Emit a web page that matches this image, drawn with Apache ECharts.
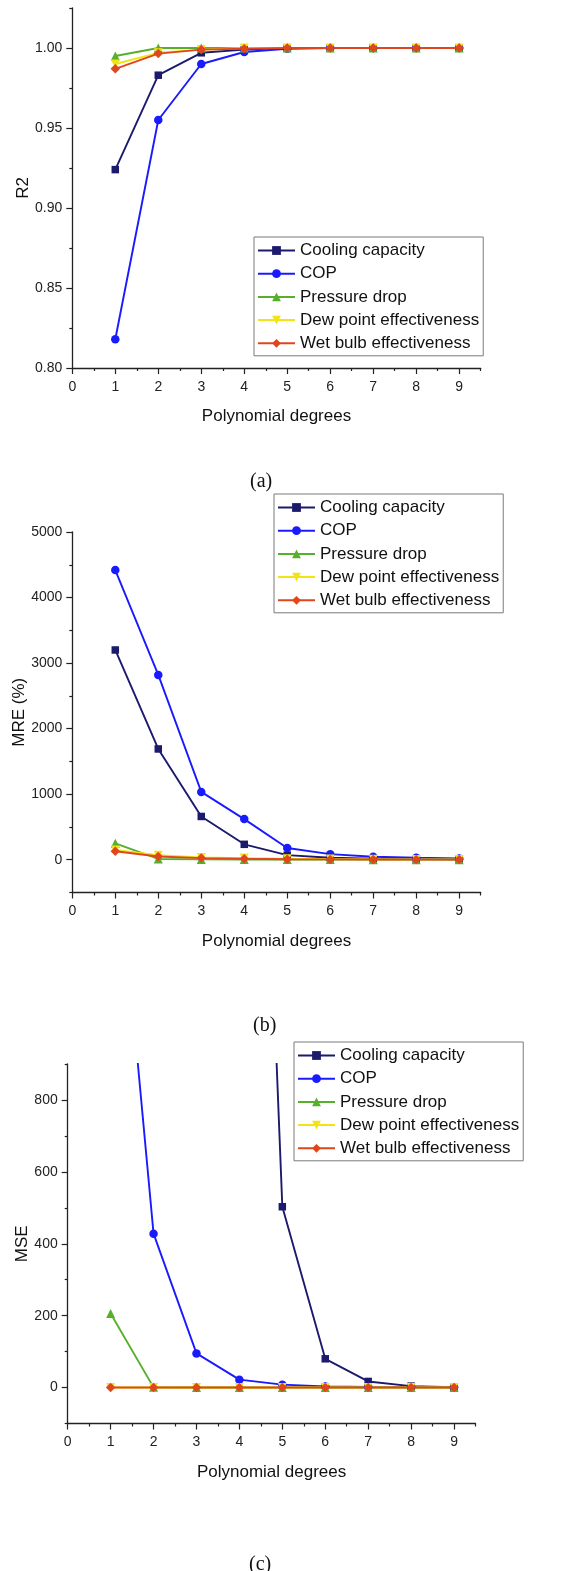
<!DOCTYPE html>
<html><head><meta charset="utf-8">
<script src="https://cdn.jsdelivr.net/npm/echarts@6/dist/echarts.min.js"></script>
<style>html,body{margin:0;padding:0;background:#fff}#c{width:573px;height:1571px}</style>
</head><body><div id="c"></div>
<script>
// ---------- data ----------
const degrees = [1, 2, 3, 4, 5, 6, 7, 8, 9];
const seriesNames = ['Cooling capacity', 'COP', 'Pressure drop', 'Dew point effectiveness', 'Wet bulb effectiveness'];

// (a) R2
const r2Cooling  = [0.924, 0.983, 0.997, 0.999, 1.000, 1.000, 1.000, 1.000, 1.000];
const r2COP      = [0.818, 0.955, 0.990, 0.9975, 0.9995, 1.000, 1.000, 1.000, 1.000];
const r2Pressure = [0.995, 1.000, 1.000, 1.000, 1.000, 1.000, 1.000, 1.000, 1.000];
const r2Dew      = [0.990, 0.997, 0.999, 1.000, 1.000, 1.000, 1.000, 1.000, 1.000];
const r2Wet      = [0.987, 0.9965, 0.999, 0.9995, 1.000, 1.000, 1.000, 1.000, 1.000];

// (b) MRE (%)
const mreCooling  = [3200, 1690, 660, 235, 70, 30, 15, 10, 5];
const mreCOP      = [4420, 2820, 1035, 620, 178, 85, 45, 30, 20];
const mrePressure = [250, 12, 5, 3, 2, 2, 1, 1, 1];
const mreDew      = [150, 70, 35, 25, 15, 10, 8, 5, 5];
const mreWet      = [130, 50, 25, 15, 8, 5, 3, 2, 2];

// (c) MSE
const mseCooling  = [60000, 25000, 10000, 3500, 503, 80, 17, 4, 1];
const mseCOP      = [1720, 428, 95, 22, 8, 3, 1.5, 1, 0.5];
const msePressure = [206, 0.5, 0.2, 0.1, 0.1, 0.1, 0.1, 0.1, 0.1];
const mseDew      = [0.05, 0.03, 0.02, 0.01, 0.01, 0.01, 0.01, 0.01, 0.01];
const mseWet      = [0.05, 0.03, 0.02, 0.01, 0.01, 0.01, 0.01, 0.01, 0.01];

// tick labels
const xTicks = [0, 1, 2, 3, 4, 5, 6, 7, 8, 9];
const xMinorTicks = [0.5, 1.5, 2.5, 3.5, 4.5, 5.5, 6.5, 7.5, 8.5, 9.5];
const r2Ticks = [0.80, 0.85, 0.90, 0.95, 1.00];
const r2MinorTicks = [0.825, 0.875, 0.925, 0.975, 1.025];
const mreTicks = [0, 1000, 2000, 3000, 4000, 5000];
const mreMinorTicks = [-500, 500, 1500, 2500, 3500, 4500];
const mseTicks = [0, 200, 400, 600, 800];
const mseMinorTicks = [-100, 100, 300, 500, 700, 900];
const captions = ['(a)', '(b)', '(c)'];
const yNames = ['R2', 'MRE (%)', 'MSE'];

// ---------- styling ----------
const colors = ['#1b1a6c', '#1a1aff', '#56b02c', '#f2e414', '#e0461c'];
const symbols = ['rect', 'circle', 'triangle', 'triangle', 'diamond'];
const symbolRot = [0, 0, 0, 180, 0];
const symbolSizes = [7.5, 8.5, 9, 9, 9.5];
const FONT = 'Liberation Sans, Arial, sans-serif';
const AX = '#222';

const panels = [
  { grid: {left: 72.3, top: 8, width: 408.4, height: 360}, yMin: 0.8, yMax: 1.025,
    yTicks: r2Ticks, yMinor: r2MinorTicks, fmt: v => v.toFixed(2), nameGap: 40,
    data: [r2Cooling, r2COP, r2Pressure, r2Dew, r2Wet],
    legend: {left: 254, top: 237}, cap: {left: 250, top: 472} },
  { grid: {left: 72.3, top: 532, width: 408.4, height: 360.5}, yMin: -500, yMax: 5000,
    yTicks: mreTicks, yMinor: mreMinorTicks, fmt: v => String(v), nameGap: 44.5,
    data: [mreCooling, mreCOP, mrePressure, mreDew, mreWet],
    legend: {left: 274, top: 494}, cap: {left: 253, top: 1016} },
  { grid: {left: 67.7, top: 1064, width: 407.8, height: 359.5}, yMin: -100, yMax: 900,
    yTicks: mseTicks, yMinor: mseMinorTicks, fmt: v => String(v), nameGap: 37,
    data: [mseCooling, mseCOP, msePressure, mseDew, mseWet],
    legend: {left: 294, top: 1042}, cap: {left: 249, top: 1555} }
];

const grid = [], xAxis = [], yAxis = [], series = [], legend = [], title = [];
panels.forEach((p, i) => {
  grid.push(Object.assign({containLabel: false, outerBoundsMode: 'none'}, p.grid));
  xAxis.push({
    type: 'value', gridIndex: i, position: 'bottom', min: 0, max: 9.5,
    name: 'Polynomial degrees', nameLocation: 'middle', nameGap: 40, nameMoveOverlap: false,
    nameTextStyle: {fontFamily: FONT, fontSize: 17, color: '#111'},
    axisLine: {onZero: false, lineStyle: {color: AX, width: 1.3}},
    axisTick: {customValues: xTicks, length: 6, lineStyle: {color: AX, width: 1.2}},
    axisLabel: {customValues: xTicks, margin: 12, fontFamily: FONT, fontSize: 14, color: '#222'},
    splitLine: {show: false}
  });
  xAxis.push({
    type: 'value', gridIndex: i, position: 'bottom', min: 0, max: 9.5,
    axisLine: {show: false, onZero: false},
    axisTick: {customValues: xMinorTicks, length: 3, lineStyle: {color: AX, width: 1.2}},
    axisLabel: {show: false}, splitLine: {show: false}
  });
  yAxis.push({
    type: 'value', gridIndex: i, position: 'left', min: p.yMin, max: p.yMax,
    name: yNames[i], nameLocation: 'middle', nameGap: p.nameGap, nameMoveOverlap: false,
    nameTextStyle: {fontFamily: FONT, fontSize: 17, color: '#111'},
    axisLine: {onZero: false, lineStyle: {color: AX, width: 1.3}},
    axisTick: {customValues: p.yTicks, length: 6, lineStyle: {color: AX, width: 1.2}},
    axisLabel: {customValues: p.yTicks, margin: 10, fontFamily: FONT, fontSize: 14, color: '#222', formatter: p.fmt},
    splitLine: {show: false}
  });
  yAxis.push({
    type: 'value', gridIndex: i, position: 'left', min: p.yMin, max: p.yMax,
    axisLine: {show: false, onZero: false},
    axisTick: {customValues: p.yMinor, length: 3, lineStyle: {color: AX, width: 1.2}},
    axisLabel: {show: false}, splitLine: {show: false}
  });
  p.data.forEach((arr, k) => {
    series.push({
      type: 'line', name: seriesNames[k], xAxisIndex: 2 * i, yAxisIndex: 2 * i,
      data: degrees.map((d, j) => [d, arr[j]]),
      symbol: symbols[k], symbolRotate: symbolRot[k], symbolSize: symbolSizes[k],
      showAllSymbol: true, clip: true,
      lineStyle: {color: colors[k], width: 1.9},
      itemStyle: {color: colors[k]},
      emphasis: {disabled: true}
    });
  });
  legend.push({
    orient: 'vertical', left: p.legend.left, top: p.legend.top,
    data: seriesNames, itemWidth: 37, itemHeight: 11, itemGap: 6.2,
    padding: [5, 4, 4, 3], borderColor: '#7a7a7a', borderWidth: 1, backgroundColor: '#fff',
    textStyle: {fontFamily: FONT, fontSize: 17, color: '#111'},
    selectedMode: false
  });
  title.push({
    text: captions[i], left: p.cap.left, top: p.cap.top, padding: 0,
    textStyle: {fontFamily: 'Liberation Serif, Times New Roman, serif', fontSize: 20, fontWeight: 'normal', color: '#111'}
  });
});

const chart = echarts.init(document.getElementById('c'), null, {renderer: 'canvas'});
chart.setOption({
  backgroundColor: '#fff', animation: false,
  grid, xAxis, yAxis, series, legend, title
});
</script></body></html>
